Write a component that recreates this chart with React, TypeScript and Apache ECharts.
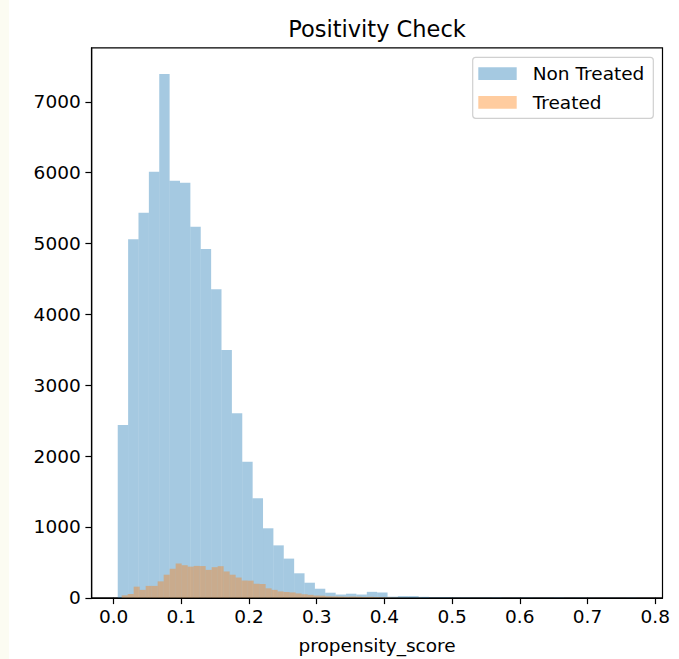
import React, { useEffect, useRef } from "react";
import * as echarts from "echarts";

// Histogram counts (50 bins each)
const nonTreatedCounts = [
  2439, 5059, 5435, 6013, 7392, 5886, 5858, 5237, 4922, 4354,
  3497, 2604, 1921, 1406, 981, 740, 553, 346, 213, 128,
  72, 46, 58, 46, 84, 75, 16, 24, 24, 14,
  6, 8, 4, 5, 3, 4, 6, 2, 3, 4,
  2, 3, 5, 2, 3, 2, 1, 2, 1, 3,
];
const treatedCounts = [
  35, 55, 157, 112, 168, 168, 232, 326, 410, 484,
  460, 440, 450, 448, 394, 432, 446, 372, 326, 286,
  244, 242, 200, 195, 134, 112, 90, 82, 76, 62,
  50, 42, 32, 30, 22, 20, 18, 15, 18, 16,
  12, 14, 10, 8, 6, 4, 3, 2, 1, 2,
];
// bin layout (start of first bin, bin width)
const NON_TREATED_START = 0.00606;
const NON_TREATED_BIN = 0.01533;
const TREATED_START = 0.0119;
const TREATED_BIN = 0.00886;

const xTicks = [0, 0.1, 0.2, 0.3, 0.4, 0.5, 0.6, 0.7, 0.8];
const yTicks = [0, 1000, 2000, 3000, 4000, 5000, 6000, 7000];
const X_MIN = -0.0324;
const X_MAX = 0.8108;
const Y_MAX = 7762;

const BLUE = "rgba(31,119,180,0.4)";
const ORANGE = "rgba(255,127,14,0.4)";
const FONT = "DejaVu Sans";
const FS = 18.5;

function toBins(start: number, width: number, counts: number[]) {
  return counts.map((c, i) => [start + i * width, start + (i + 1) * width, c]);
}

function histSeries(name: string, data: number[][], color: string) {
  return {
    type: "custom",
    name,
    data,
    encode: { x: [0, 1], y: 2 },
    itemStyle: { color },
    renderItem: (params: any, api: any) => {
      const p0 = api.coord([api.value(0), api.value(2)]);
      const p1 = api.coord([api.value(1), 0]);
      return {
        type: "rect",
        shape: { x: p0[0], y: p0[1], width: p1[0] - p0[0], height: p1[1] - p0[1] },
        style: { fill: color },
      };
    },
  };
}

export default function App() {
  const ref = useRef<HTMLDivElement>(null);
  useEffect(() => {
    if (!ref.current) return;
    const chart = echarts.init(ref.current, null, { renderer: "svg" });
    chart.setOption({
      animation: false,
      backgroundColor: "#ffffff",
      grid: {
        left: 91.7,
        right: 16.5,
        top: 47.8,
        bottom: 61.2,
        show: true,
        borderColor: "#000",
        borderWidth: 1.2,
        containLabel: false,
        outerBoundsMode: "none",
      },
      xAxis: {
        type: "value",
        min: X_MIN,
        max: X_MAX,
        name: "propensity_score",
        nameLocation: "middle",
        nameGap: 38,
        nameTextStyle: { fontFamily: FONT, fontSize: FS, color: "#000" },
        axisLine: { show: true, onZero: false, lineStyle: { color: "#000", width: 1.2 } },
        axisTick: { show: true, length: 6.3, lineStyle: { color: "#000", width: 1.2 }, customValues: xTicks },
        axisLabel: {
          customValues: xTicks,
          formatter: (v: number) => v.toFixed(1),
          fontFamily: FONT,
          fontSize: FS,
          color: "#000",
          margin: 9,
        },
        splitLine: { show: false },
      },
      yAxis: {
        type: "value",
        min: 0,
        max: Y_MAX,
        axisLine: { show: true, onZero: false, lineStyle: { color: "#000", width: 1.2 } },
        axisTick: { show: true, length: 6.3, lineStyle: { color: "#000", width: 1.2 }, customValues: yTicks },
        axisLabel: {
          customValues: yTicks,
          formatter: (v: number) => String(v),
          fontFamily: FONT,
          fontSize: FS,
          color: "#000",
          margin: 11,
        },
        splitLine: { show: false },
      },
      series: [
        histSeries("Non Treated", toBins(NON_TREATED_START, NON_TREATED_BIN, nonTreatedCounts), BLUE),
        histSeries("Treated", toBins(TREATED_START, TREATED_BIN, treatedCounts), ORANGE),
      ],
      graphic: [
        { type: "rect", left: 0, top: 0, shape: { x: 0, y: 0, width: 9, height: 659 }, style: { fill: "#fcfcf2" }, silent: true },
        {
          type: "text",
          x: 377,
          y: 29,
          style: { text: "Positivity Check", fontFamily: FONT, fontSize: 22.5, fill: "#000", textAlign: "center", textVerticalAlign: "middle" },
        },
        {
          type: "rect",
          shape: { x: 472.7, y: 57.3, width: 180.6, height: 61, r: 3 },
          style: { fill: "#fff", stroke: "#d0d0d0", lineWidth: 1.2 },
          z: 10,
        },
        { type: "rect", shape: { x: 478.3, y: 67.3, width: 38.4, height: 12.7 }, style: { fill: BLUE }, z: 11 },
        { type: "rect", shape: { x: 478.3, y: 96, width: 38.4, height: 12.7 }, style: { fill: ORANGE }, z: 11 },
        {
          type: "text",
          x: 532.7,
          y: 73.7,
          z: 11,
          style: { text: "Non Treated", fontFamily: FONT, fontSize: FS, fill: "#000", textAlign: "left", textVerticalAlign: "middle" },
        },
        {
          type: "text",
          x: 532.7,
          y: 102.3,
          z: 11,
          style: { text: "Treated", fontFamily: FONT, fontSize: FS, fill: "#000", textAlign: "left", textVerticalAlign: "middle" },
        },
      ],
    });
    return () => chart.dispose();
  }, []);
  return (
    <div
      ref={ref}
      style={{ position: "absolute", left: 0, top: 0, width: 679, height: 659, background: "#fff" }}
    />
  );
}
